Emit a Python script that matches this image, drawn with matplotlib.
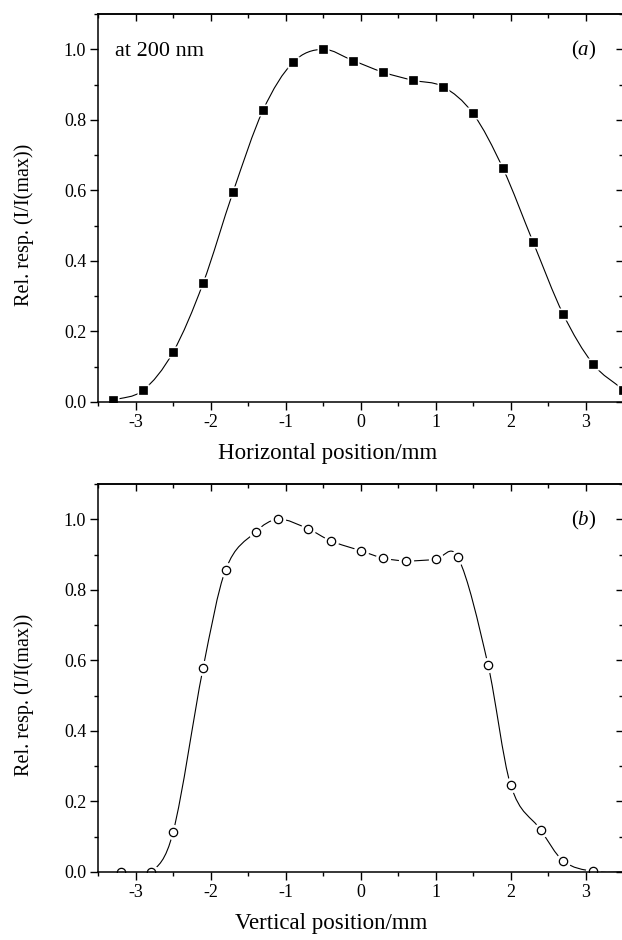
import numpy as np
import matplotlib
matplotlib.use("Agg")
import matplotlib.pyplot as plt
from matplotlib.path import Path
from matplotlib.patches import PathPatch
from matplotlib.ticker import MultipleLocator, FormatStrFormatter

plt.rcParams['font.family'] = ['Liberation Serif', 'DejaVu Serif']
plt.rcParams['mathtext.fontset'] = 'custom'
plt.rcParams['mathtext.rm'] = 'Liberation Serif'
plt.rcParams['mathtext.it'] = 'Liberation Serif:italic'
plt.rcParams['axes.unicode_minus'] = False

# panel (a): horizontal scan, filled squares
pos_h = [-3.3, -2.9, -2.5, -2.1, -1.7, -1.3, -0.9, -0.5, -0.1, 0.3,
         0.7, 1.1, 1.5, 1.9, 2.3, 2.7, 3.1, 3.5]
resp_h = [0.005, 0.033, 0.141, 0.336, 0.595, 0.827, 0.963, 1.0, 0.968, 0.935,
          0.912, 0.894, 0.818, 0.662, 0.454, 0.250, 0.108, 0.035]

# panel (b): vertical scan, open circles
pos_v = [-3.2, -2.8, -2.5, -2.1, -1.8, -1.4, -1.1, -0.7, -0.4, 0.0,
         0.3, 0.6, 1.0, 1.3, 1.7, 2.0, 2.4, 2.7, 3.1, 3.6]
resp_v = [0.0, 0.0, 0.112, 0.577, 0.856, 0.964, 1.0, 0.973, 0.939, 0.911,
          0.890, 0.882, 0.886, 0.892, 0.588, 0.248, 0.120, 0.032, 0.002, 0.0]

x_ticks = [-3, -2, -1, 0, 1, 2, 3]
y_ticks = [0.0, 0.2, 0.4, 0.6, 0.8, 1.0]


def smooth_path(x, y):
    """Hermite curve through the points, written as cubic bezier segments."""
    x = np.asarray(x, float)
    y = np.asarray(y, float)
    n = len(x)
    m = np.zeros(n)
    m[0] = (y[1] - y[0]) / (x[1] - x[0])
    m[-1] = (y[-1] - y[-2]) / (x[-1] - x[-2])
    for i in range(1, n - 1):
        m[i] = (y[i + 1] - y[i - 1]) / (x[i + 1] - x[i - 1])
    verts = [(x[0], y[0])]
    codes = [Path.MOVETO]
    for i in range(n - 1):
        h = x[i + 1] - x[i]
        verts += [(x[i] + h / 3, y[i] + m[i] * h / 3),
                  (x[i + 1] - h / 3, y[i + 1] - m[i + 1] * h / 3),
                  (x[i + 1], y[i + 1])]
        codes += [Path.CURVE4] * 3
    return Path(verts, codes)


def style_axes(ax, xlabel, xlab_x):
    ax.set_xlim(-3.5, 3.5)
    ax.set_ylim(0, 1.1)
    ax.set_axisbelow(False)
    ax.set_xticks(x_ticks)
    ax.set_yticks(y_ticks)
    ax.xaxis.set_minor_locator(MultipleLocator(0.5))
    ax.yaxis.set_minor_locator(MultipleLocator(0.1))
    ax.yaxis.set_major_formatter(FormatStrFormatter('%.1f'))
    ax.xaxis.set_major_formatter(FormatStrFormatter('%d'))
    ax.tick_params(which='major', direction='out', length=5.5, width=1.0,
                   labelsize=13, pad=3)
    ax.tick_params(which='minor', direction='out', length=3.2, width=1.0)
    for s in ax.spines.values():
        s.set_linewidth(1.1)
    ax.spines['right'].set_visible(False)

    top = ax.secondary_xaxis('top')
    top.set_xticks(x_ticks)
    top.xaxis.set_minor_locator(MultipleLocator(0.5))
    top.tick_params(which='major', direction='in', length=5, width=1.0, labeltop=False)
    top.tick_params(which='minor', direction='in', length=3, width=1.0)
    top.spines['top'].set_linewidth(1.1)

    right = ax.secondary_yaxis('right')
    right.set_yticks(y_ticks)
    right.yaxis.set_minor_locator(MultipleLocator(0.1))
    right.tick_params(which='major', direction='in', length=5, width=1.0, labelright=False)
    right.tick_params(which='minor', direction='in', length=3, width=1.0)
    right.spines['right'].set_visible(False)

    ax.set_xlabel(xlabel, fontsize=16.5)
    ax.xaxis.set_label_coords(xlab_x, -0.105)
    ax.set_ylabel('Rel. resp. (I/I(max))', fontsize=14.5)
    ax.yaxis.set_label_coords(-0.122, 0.456)


fig = plt.figure(figsize=(6.22, 9.40), dpi=100)
left = 98 / 622
width = (623 - 98) / 622
height = 388 / 940
ax_a = fig.add_axes([left, 1 - 402 / 940, width, height])
ax_b = fig.add_axes([left, 1 - 872 / 940, width, height])

# (a)
ax_a.add_patch(PathPatch(smooth_path(pos_h, resp_h), fill=False, lw=0.8,
                         edgecolor='black', zorder=2))
ax_a.plot(pos_h, resp_h, ls='none', marker='s', ms=8.5, mfc='white', mec='none',
          zorder=2.2)
ax_a.plot(pos_h, resp_h, ls='none', marker='s', ms=5.5, mfc='black', mec='black',
          mew=0.5, zorder=2.3)
style_axes(ax_a, 'Horizontal position/mm', 0.438)
ax_a.text(0.032, 0.892, 'at 200 nm', transform=ax_a.transAxes, fontsize=16,
          ha='left', va='baseline')
ax_a.text(0.95, 0.892, r'($a$)', transform=ax_a.transAxes, fontsize=15,
          ha='right', va='baseline')

# (b)
ax_b.add_patch(PathPatch(smooth_path(pos_v, resp_v), fill=False, lw=0.8,
                         edgecolor='black', zorder=2))
ax_b.plot(pos_v, resp_v, ls='none', marker='o', ms=11, mfc='white', mec='none',
          zorder=2.2)
ax_b.plot(pos_v, resp_v, ls='none', marker='o', ms=6, mfc='white', mec='black',
          mew=0.9, zorder=2.3)
style_axes(ax_b, 'Vertical position/mm', 0.444)
ax_b.text(0.95, 0.892, r'($b$)', transform=ax_b.transAxes, fontsize=15,
          ha='right', va='baseline')

fig.savefig('out.png', dpi=100)
